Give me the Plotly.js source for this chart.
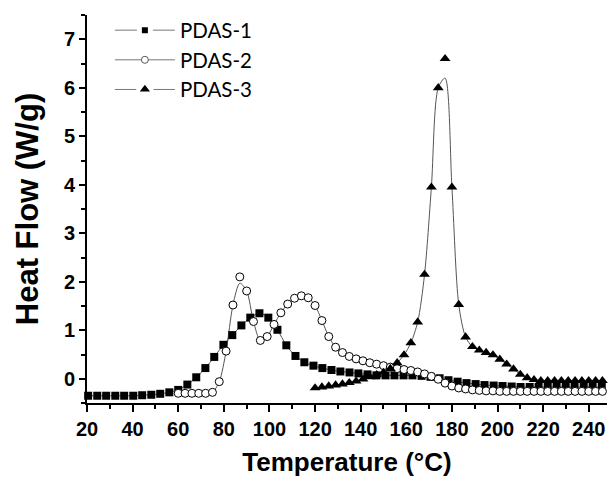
<!DOCTYPE html>
<html>
<head>
<meta charset="utf-8">
<script src="https://cdn.plot.ly/plotly-3.0.1.min.js"></script>
<style>html,body{margin:0;padding:0;background:#fff;}#chart{width:609px;height:477px;}</style>
</head>
<body>
<div id="chart"></div>
<script>
// ---- data ----
const seriesNames = ["PDAS-1", "PDAS-2", "PDAS-3"];

const pdas1X = [20.5, 24.5, 28.4, 32.4, 36.3, 40.3, 44.2, 48.2, 52.1, 56.1, 60.0, 64.0, 67.9, 71.9, 75.8, 79.8, 83.7, 87.7, 91.6, 95.6, 99.5, 103.5, 107.4, 111.4, 115.3, 119.3, 123.2, 127.2, 131.1, 135.1, 139.0, 143.0, 146.9, 150.9, 154.8, 158.8, 162.7, 166.7, 170.6, 174.6, 178.5, 182.5, 186.4, 190.4, 194.3, 198.3, 202.2, 206.2, 210.1, 214.1, 218.0, 222.0, 225.9, 229.9, 233.8, 237.8, 241.7, 245.7];
const pdas1Y = [-0.35, -0.35, -0.35, -0.35, -0.35, -0.35, -0.34, -0.33, -0.31, -0.28, -0.23, -0.12, 0.03, 0.22, 0.45, 0.70, 0.90, 1.10, 1.26, 1.35, 1.26, 1.01, 0.69, 0.47, 0.34, 0.27, 0.22, 0.18, 0.15, 0.13, 0.11, 0.09, 0.07, 0.07, 0.07, 0.07, 0.07, 0.06, 0.04, 0.01, -0.03, -0.06, -0.09, -0.11, -0.13, -0.14, -0.15, -0.16, -0.17, -0.17, -0.17, -0.17, -0.17, -0.17, -0.17, -0.17, -0.17, -0.17];

const pdas2X = [60, 63, 66, 69, 72, 75, 78, 81, 84, 87, 90, 93, 96, 99, 102, 105, 108, 111, 114, 117, 120, 123, 126, 129, 132, 135, 138, 141, 144, 147, 150, 153, 156, 159, 162, 165, 168, 171, 174, 177, 180, 183, 186, 189, 192, 195, 198, 201, 204, 207, 210, 213, 216, 219, 222, 225, 228, 231, 234, 237, 240, 243, 246];
const pdas2Y = [-0.30, -0.30, -0.30, -0.30, -0.30, -0.28, -0.06, 0.57, 1.52, 2.10, 1.81, 1.18, 0.79, 0.87, 1.12, 1.36, 1.54, 1.66, 1.71, 1.67, 1.51, 1.20, 0.87, 0.65, 0.54, 0.46, 0.41, 0.37, 0.33, 0.30, 0.27, 0.24, 0.21, 0.19, 0.17, 0.14, 0.10, 0.05, -0.01, -0.09, -0.15, -0.19, -0.21, -0.23, -0.24, -0.25, -0.25, -0.26, -0.26, -0.26, -0.26, -0.26, -0.26, -0.26, -0.26, -0.26, -0.26, -0.26, -0.26, -0.26, -0.26, -0.26, -0.26];
// the drawn curve sits a little below the peak marker
const pdas2LineY = [-0.30, -0.30, -0.30, -0.30, -0.30, -0.28, -0.06, 0.57, 1.52, 1.97, 1.81, 1.18, 0.79, 0.87, 1.12, 1.36, 1.54, 1.66, 1.71, 1.67, 1.51, 1.20, 0.87, 0.65, 0.54, 0.46, 0.41, 0.37, 0.33, 0.30, 0.27, 0.24, 0.21, 0.19, 0.17, 0.14, 0.10, 0.05, -0.01, -0.09, -0.15, -0.19, -0.21, -0.23, -0.24, -0.25, -0.25, -0.26, -0.26, -0.26, -0.26, -0.26, -0.26, -0.26, -0.26, -0.26, -0.26, -0.26, -0.26, -0.26, -0.26, -0.26, -0.26];

const pdas3X = [120, 123, 126, 129, 132, 135, 138, 141, 144, 147, 150, 153, 156, 159, 162, 165, 168, 171, 174, 177, 180, 183, 186, 189, 192, 195, 198, 201, 204, 207, 210, 213, 216, 219, 222, 225, 228, 231, 234, 237, 240, 243, 246];
const pdas3Y = [-0.19, -0.17, -0.15, -0.13, -0.11, -0.08, -0.05, -0.01, 0.04, 0.08, 0.13, 0.21, 0.33, 0.49, 0.74, 1.17, 2.15, 3.95, 6.00, 6.60, 3.95, 1.53, 0.86, 0.66, 0.59, 0.54, 0.49, 0.40, 0.30, 0.20, 0.09, 0.02, -0.02, -0.04, -0.04, -0.04, -0.04, -0.04, -0.04, -0.04, -0.04, -0.04, -0.04];
// the drawn curve peaks near 6.2, below the top marker
const pdas3LineY = [-0.19, -0.17, -0.15, -0.13, -0.11, -0.08, -0.05, -0.01, 0.04, 0.08, 0.13, 0.21, 0.33, 0.49, 0.74, 1.17, 2.15, 3.95, 6.00, 6.20, 3.95, 1.53, 0.86, 0.66, 0.59, 0.54, 0.49, 0.40, 0.30, 0.20, 0.09, 0.02, -0.02, -0.04, -0.04, -0.04, -0.04, -0.04, -0.04, -0.04, -0.04, -0.04, -0.04];

const xTickVals = [20, 40, 60, 80, 100, 120, 140, 160, 180, 200, 220, 240];
const yTickVals = [0, 1, 2, 3, 4, 5, 6, 7];

// ---- styles ----
const lineStyle = {color: "#555555", width: 1, shape: "spline", smoothing: 0.8};
const markerStyles = [
  {symbol: "square", size: 8, color: "#000000", line: {width: 0}},
  {symbol: "circle", size: 8, color: "#ffffff", line: {width: 1, color: "#000000"}},
  {symbol: "triangle-up", size: 9.5, color: "#000000", line: {width: 0}}
];
// legend symbols: small marker with a white gap on the line either side
const legendMarkers = [
  {symbol: "square", size: 11, color: "#000000", line: {width: 5, color: "#ffffff"}},
  {symbol: "circle", size: 7, color: "#ffffff", line: {width: 1, color: "#555555"}},
  {symbol: "triangle-up", size: 16, color: "#000000", line: {width: 4, color: "#ffffff"}}
];

const lineData = [[pdas1X, pdas1Y], [pdas2X, pdas2LineY], [pdas3X, pdas3LineY]];
const markData = [[pdas1X, pdas1Y], [pdas2X, pdas2Y], [pdas3X, pdas3Y]];

const traces = [];
for (let i = 0; i < 3; i++) {
  traces.push({x: lineData[i][0], y: lineData[i][1], mode: "lines", line: lineStyle,
    showlegend: false, hoverinfo: "skip", cliponaxis: false});
}
for (let i = 0; i < 3; i++) {
  traces.push({x: markData[i][0], y: markData[i][1], mode: "markers",
    marker: markerStyles[i], showlegend: false, cliponaxis: false});
}
for (let i = 0; i < 3; i++) {
  traces.push({x: [null], y: [null], mode: "lines+markers", name: seriesNames[i],
    line: {color: "#777777", width: 1}, marker: legendMarkers[i]});
}

const boldFamily = "Liberation Sans, Arial, sans-serif";
const tickFont = {family: boldFamily, size: 20, color: "#000", weight: 700};

const layout = {
  width: 609, height: 477,
  margin: {l: 87, r: 2, t: 15, b: 74},
  paper_bgcolor: "#fff", plot_bgcolor: "#fff",
  showlegend: true,
  legend: {x: 0.044, y: 1.012, xanchor: "left", yanchor: "top", bgcolor: "rgba(0,0,0,0)",
    font: {family: "Lato, Noto Sans, sans-serif", size: 20.5, color: "#000"},
    itemwidth: 60, tracegroupgap: 0},
  xaxis: {
    range: [20, 248], showgrid: false, zeroline: false,
    showline: true, linecolor: "#000", linewidth: 2,
    ticks: "outside", ticklen: 7, tickwidth: 2, tickcolor: "#000",
    tickvals: xTickVals, tickfont: tickFont,
    minor: {dtick: 10, tick0: 20, ticks: "outside", ticklen: 4, tickwidth: 2, tickcolor: "#000", showgrid: false},
    title: {text: "Temperature (°C)", font: {family: boldFamily, size: 26, color: "#000", weight: 700}, standoff: 22}
  },
  yaxis: {
    range: [-0.5, 7.5], showgrid: false, zeroline: false,
    showline: true, linecolor: "#000", linewidth: 2,
    ticks: "outside", ticklen: 6, tickwidth: 2, tickcolor: "#000",
    tickvals: yTickVals, tickfont: tickFont,
    minor: {dtick: 0.5, tick0: 0, ticks: "outside", ticklen: 4, tickwidth: 2, tickcolor: "#000", showgrid: false},
    title: {text: "Heat Flow (W/g)\u00a0\u00a0\u00a0", font: {family: boldFamily, size: 31, color: "#000", weight: 700}, standoff: 16}
  }
};

Plotly.newPlot("chart", traces, layout, {staticPlot: true, displayModeBar: false});
</script>
</body>
</html>
